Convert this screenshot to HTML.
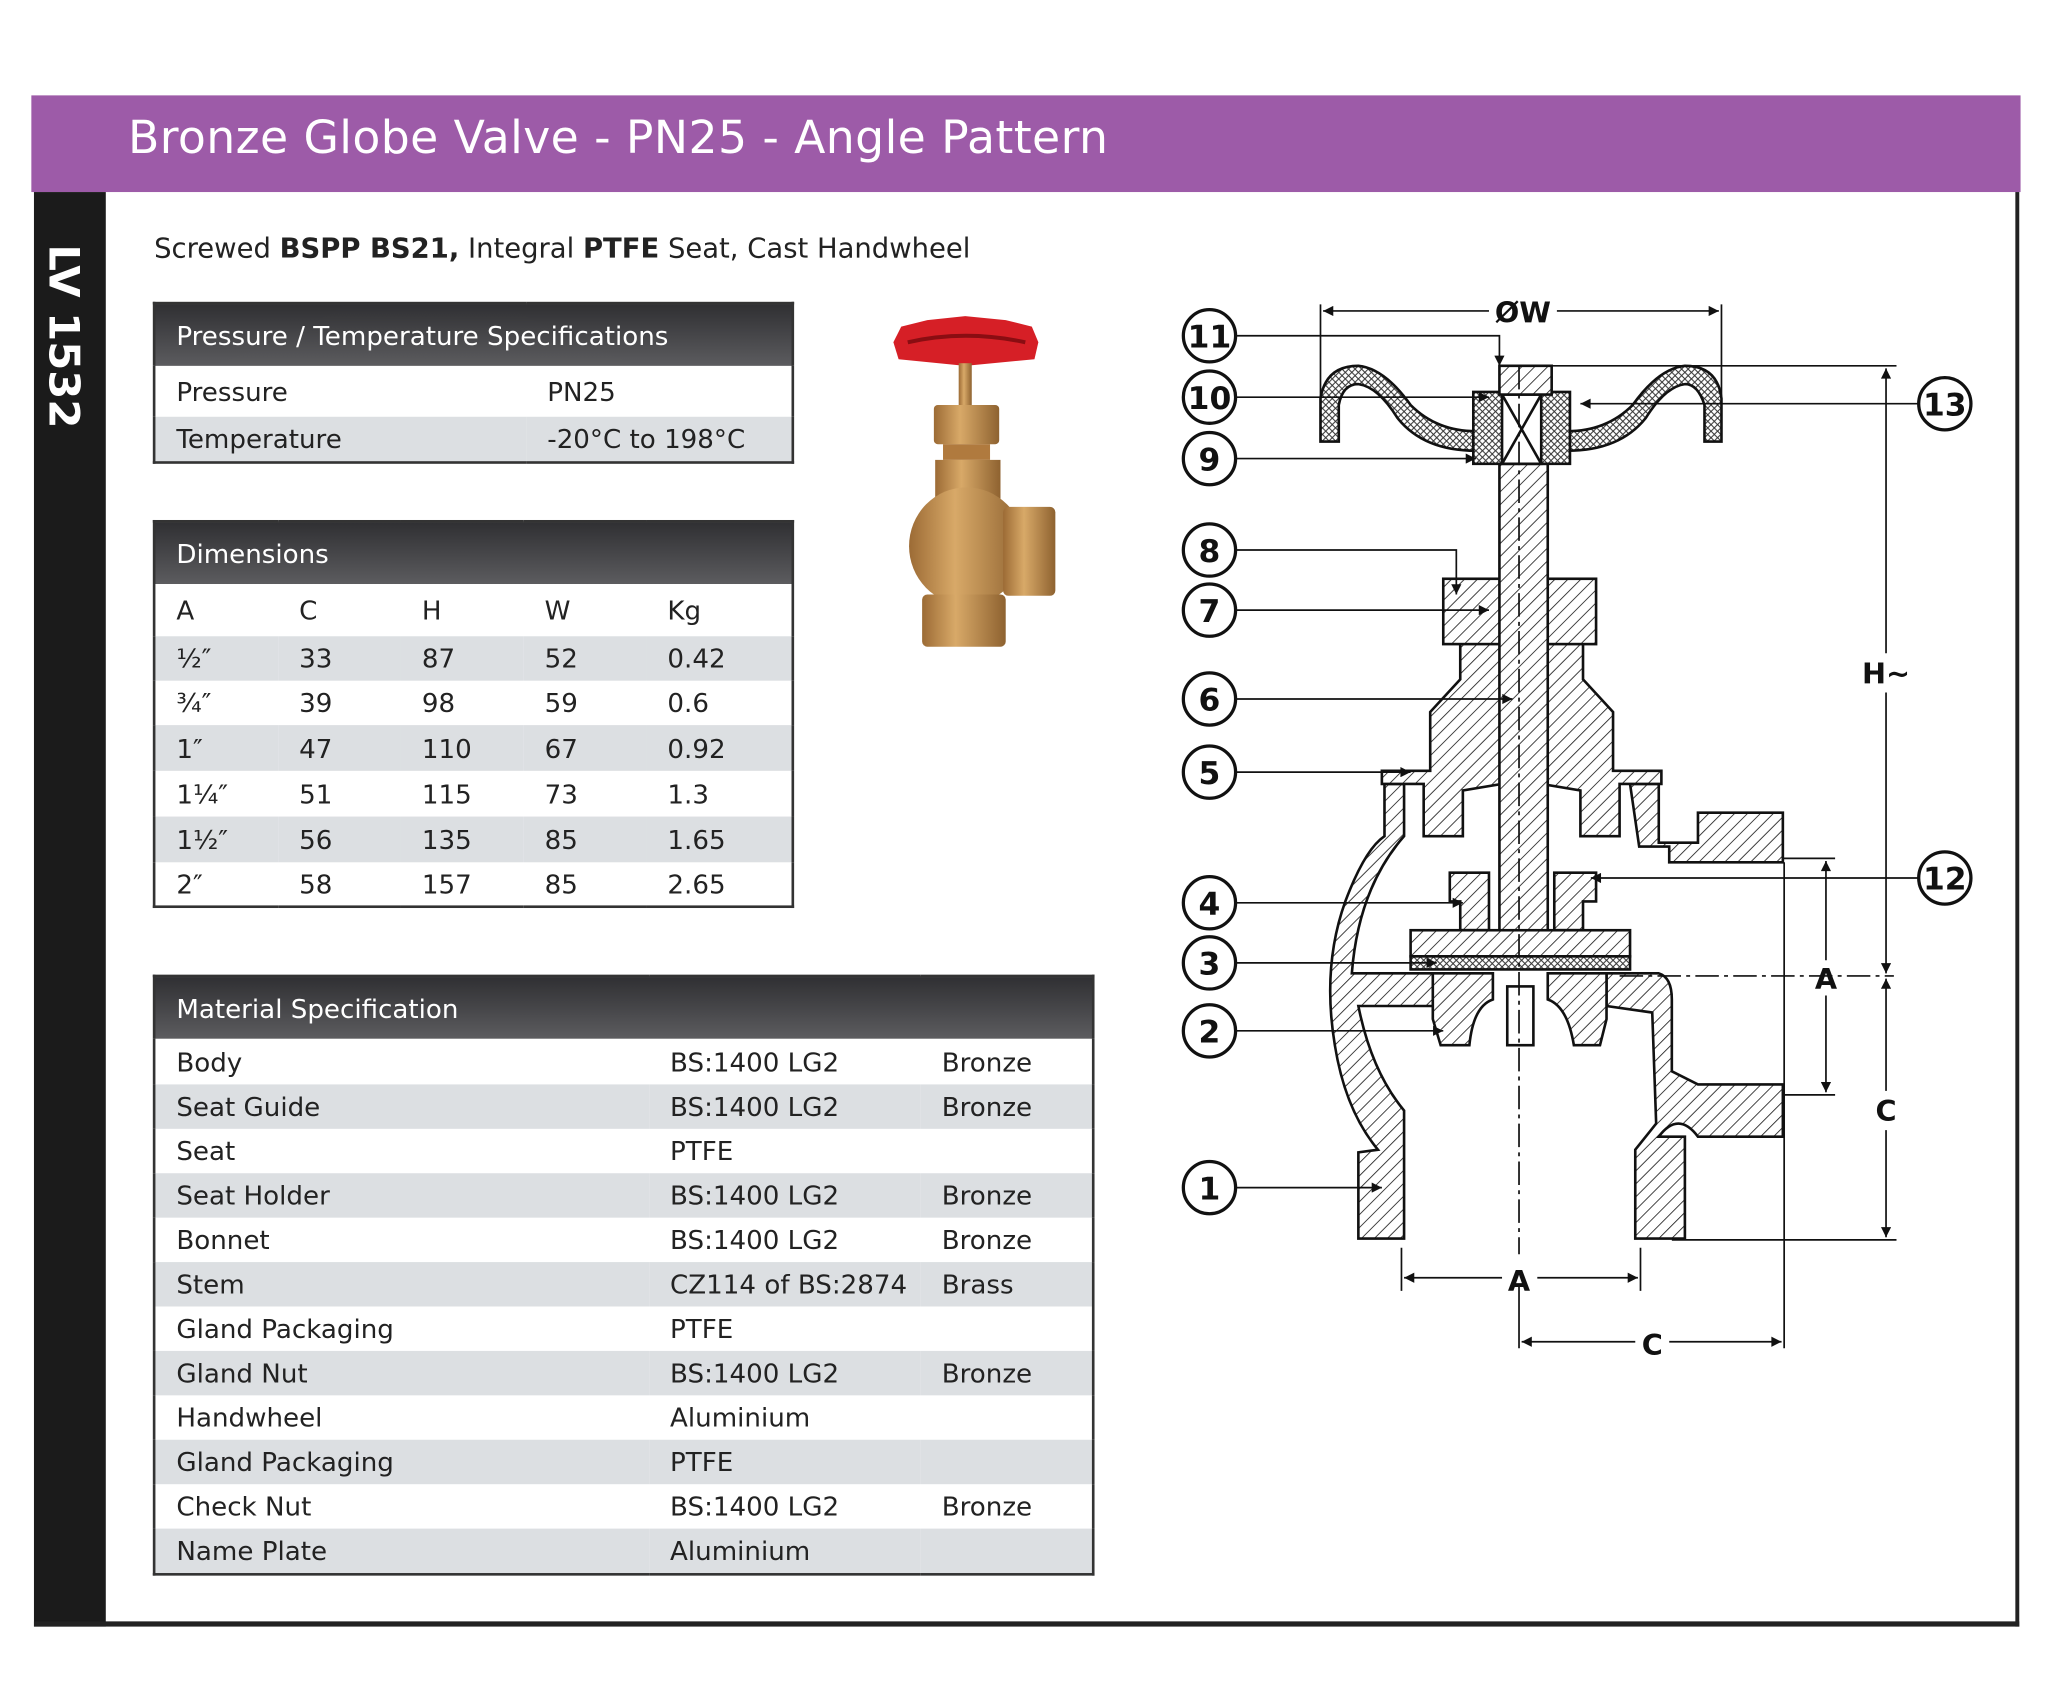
<!DOCTYPE html>
<html><head><meta charset="utf-8">
<style>
html,body{margin:0;padding:0;background:#fff;width:2048px;height:1705px;overflow:hidden}
#s{position:absolute;left:0;top:0;width:1568px;height:1305px;transform:scale(1.30612,1.3065);transform-origin:0 0;font-family:"DejaVu Sans","Liberation Sans",sans-serif;color:#222}
.abs{position:absolute}
.bar{left:24px;top:73px;width:1523px;height:74px;background:#9d5ba8}
.title{left:98px;top:86px;font-family:"DejaVu Sans",sans-serif;font-size:35px;color:#fff;white-space:nowrap;letter-spacing:0.3px}
.side{left:26px;top:147px;width:55px;height:1098px;background:#1b1b1b}
.sidetxt{left:26px;top:185px;width:55px;height:200px}
.frameR{left:1543px;top:147px;width:3px;height:1098px;background:#222}
.frameB{left:26px;top:1241px;width:1520px;height:4px;background:#222}
.sub{left:118px;top:178px;font-size:21px;white-space:nowrap}
table{position:absolute;border-collapse:collapse;border:2px solid #333;font-size:20px}
td{padding:0 0 0 16px;white-space:nowrap}
th{background:linear-gradient(#303033,#5c5c5f);color:#fff;font-weight:normal;text-align:left;padding:0 0 0 16px;height:47px}
tr.g td{background:#dcdfe2}
</style></head><body><div id="s">
<div class="abs bar"></div>
<div class="abs title">Bronze Globe Valve - PN25 - Angle Pattern</div>
<div class="abs side"></div>
<svg class="abs sidetxt" width="55" height="200"><text transform="translate(12,2) rotate(90)" x="0" y="0" font-family="DejaVu Sans,sans-serif" font-weight="bold" font-size="32" fill="#fff">LV 1532</text></svg>
<div class="abs frameR"></div>
<div class="abs frameB"></div>
<div class="abs sub">Screwed <b>BSPP BS21,</b> Integral <b>PTFE</b> Seat, Cast Handwheel</div>

<table style="left:117px;top:231px;width:491px">
<tr><th colspan="2">Pressure / Temperature Specifications</th></tr>
<tr style="height:39px"><td style="width:268px">Pressure</td><td>PN25</td></tr>
<tr class="g" style="height:35px"><td>Temperature</td><td>-20°C to 198°C</td></tr>
</table>

<table style="left:117px;top:398px;width:491px">
<tr><th colspan="5">Dimensions</th></tr>
<tr style="height:40px"><td style="width:78px">A</td><td style="width:78px">C</td><td style="width:78px">H</td><td style="width:78px">W</td><td>Kg</td></tr>
<tr class="g" style="height:34px"><td>½″</td><td>33</td><td>87</td><td>52</td><td>0.42</td></tr>
<tr style="height:34px"><td>¾″</td><td>39</td><td>98</td><td>59</td><td>0.6</td></tr>
<tr class="g" style="height:35px"><td>1″</td><td>47</td><td>110</td><td>67</td><td>0.92</td></tr>
<tr style="height:35px"><td>1¼″</td><td>51</td><td>115</td><td>73</td><td>1.3</td></tr>
<tr class="g" style="height:35px"><td>1½″</td><td>56</td><td>135</td><td>85</td><td>1.65</td></tr>
<tr style="height:34px"><td>2″</td><td>58</td><td>157</td><td>85</td><td>2.65</td></tr>
</table>

<table style="left:117px;top:746px;width:721px">
<tr><th colspan="3">Material Specification</th></tr>
<tr style="height:35px"><td style="width:362px">Body</td><td style="width:192px">BS:1400 LG2</td><td>Bronze</td></tr>
<tr class="g" style="height:34px"><td>Seat Guide</td><td>BS:1400 LG2</td><td>Bronze</td></tr>
<tr style="height:34px"><td>Seat</td><td>PTFE</td><td></td></tr>
<tr class="g" style="height:34px"><td>Seat Holder</td><td>BS:1400 LG2</td><td>Bronze</td></tr>
<tr style="height:34px"><td>Bonnet</td><td>BS:1400 LG2</td><td>Bronze</td></tr>
<tr class="g" style="height:34px"><td>Stem</td><td>CZ114 of BS:2874</td><td>Brass</td></tr>
<tr style="height:34px"><td>Gland Packaging</td><td>PTFE</td><td></td></tr>
<tr class="g" style="height:34px"><td>Gland Nut</td><td>BS:1400 LG2</td><td>Bronze</td></tr>
<tr style="height:34px"><td>Handwheel</td><td>Aluminium</td><td></td></tr>
<tr class="g" style="height:34px"><td>Gland Packaging</td><td>PTFE</td><td></td></tr>
<tr style="height:34px"><td>Check Nut</td><td>BS:1400 LG2</td><td>Bronze</td></tr>
<tr class="g" style="height:35px"><td>Name Plate</td><td>Aluminium</td><td></td></tr>
</table>

<svg class="abs" style="left:0;top:0" width="1568" height="1305">
<defs>
<linearGradient id="br" x1="0" x2="1"><stop offset="0" stop-color="#9c6b35"/><stop offset=".4" stop-color="#d8a968"/><stop offset="1" stop-color="#8e6230"/></linearGradient>
<pattern id="h" width="7" height="7" patternUnits="userSpaceOnUse" patternTransform="rotate(45)"><rect width="7" height="7" fill="#fff"/><line x1="0" y1="0" x2="0" y2="7" stroke="#222" stroke-width="1.3"/></pattern>
<pattern id="x" width="5" height="5" patternUnits="userSpaceOnUse"><rect width="5" height="5" fill="#fff"/><path d="M0 0L5 5M5 0L0 5" stroke="#333" stroke-width=".8"/></pattern>
<marker id="a" viewBox="0 0 10 10" refX="10" refY="5" markerWidth="9" markerHeight="6" orient="auto-start-reverse"><path d="M0 0L10 5L0 10z" fill="#111"/></marker>
</defs>
<path d="M684 262 L690 250 L710 245 L739 242 L770 245 L790 250 L795 262 L792 275 L739 280 L688 275z" fill="#d61f26"/>
<path d="M695 262 Q739 252 785 262" stroke="#8a0d12" stroke-width="3" fill="none"/>
<rect x="734" y="278" width="10" height="35" fill="url(#br)"/>
<rect x="715" y="310" width="50" height="30" rx="3" fill="url(#br)"/>
<rect x="722" y="340" width="36" height="12" fill="#b07a3e"/>
<rect x="716" y="352" width="50" height="30" fill="url(#br)"/>
<ellipse cx="740" cy="418" rx="44" ry="45" fill="url(#br)"/>
<rect x="768" y="388" width="40" height="68" rx="4" fill="url(#br)"/>
<rect x="706" y="455" width="64" height="40" rx="4" fill="url(#br)"/>

<g stroke="#111" stroke-width="2" fill="url(#h)">
<path d="M1060 600 L1075 600 L1075 640 Q1040 680 1035 745 L1100 745 L1100 770 L1040 770 Q1050 820 1075 850 L1075 948 L1040 948 L1040 882 L1055 880 Q1030 850 1022 800 Q1012 740 1030 690 Q1045 650 1060 640z"/>
<path d="M1248 600 L1270 600 L1270 645 L1300 645 L1300 622 L1365 622 L1365 660 L1278 660 L1278 648 L1255 648z"/>
<path d="M1230 745 L1270 745 Q1280 748 1280 765 L1280 820 L1300 830 L1365 830 L1365 870 L1300 870 Q1285 850 1270 870 L1290 870 L1290 948 L1252 948 L1252 880 L1268 860 L1265 775 L1230 770z"/>
<path d="M1118 492 L1212 492 L1212 520 L1235 545 L1235 590 L1272 590 L1272 600 L1240 600 L1240 640 L1210 640 L1210 605 L1180 600 L1180 545 L1150 545 L1150 600 L1120 605 L1120 640 L1090 640 L1090 600 L1058 600 L1058 590 L1095 590 L1095 545 L1118 520z"/>
<rect x="1105" y="443" width="117" height="50"/>
<rect x="1148" y="355" width="37" height="375"/>
<path d="M1110 668 L1140 668 L1140 712 L1118 712 L1118 690 L1110 690z"/>
<path d="M1190 668 L1222 668 L1222 690 L1212 690 L1212 712 L1190 712z"/>
<rect x="1080" y="712" width="168" height="20"/>
<rect x="1080" y="732" width="168" height="10" fill="url(#x)"/>
<path d="M1097 745 L1143 745 L1143 765 Q1128 770 1125 800 L1103 800 L1097 780z"/>
<path d="M1185 745 L1230 745 L1230 780 L1225 800 L1205 800 Q1200 770 1185 765z"/>
<rect x="1154" y="755" width="20" height="45" fill="#fff"/>
<path d="M1011 338 L1011 305 Q1015 280 1040 280 Q1060 282 1080 310 Q1100 330 1130 330 L1200 330 Q1230 330 1250 310 Q1270 282 1290 280 Q1315 280 1318 305 L1318 338 L1305 338 L1305 310 Q1300 294 1290 294 Q1275 296 1260 320 Q1240 345 1200 345 L1130 345 Q1090 345 1070 320 Q1055 296 1040 294 Q1028 294 1025 310 L1025 338z" fill="url(#x)"/>
<rect x="1128" y="300" width="74" height="55" fill="url(#x)"/>
<rect x="1150" y="302" width="30" height="53" fill="#fff"/>
<path d="M1150 302L1180 355M1180 302L1150 355" fill="none"/>
<rect x="1148" y="280" width="40" height="22"/>
</g>
<g stroke="#111" stroke-width="1.3" fill="none">
<path d="M1163 280 V960" stroke-dasharray="18 4 3 4"/>
<path d="M1240 747 H1450" stroke-dasharray="18 4 3 4"/>
<path d="M1011 233 V338 M1318 233 V338"/>
<path d="M1013 238 H1140 M1192 238 H1316" marker-start="url(#a)" marker-end="url(#a)"/>
<path d="M1150 280 H1452 M1280 949 H1452 M1365 657 H1405 M1365 838 H1405"/>
<path d="M1444 282 V500 M1444 530 V745" marker-start="url(#a)" marker-end="url(#a)"/>
<path d="M1444 749 V835 M1444 865 V947" marker-start="url(#a)" marker-end="url(#a)"/>
<path d="M1398 659 V735 M1398 762 V836" marker-start="url(#a)" marker-end="url(#a)"/>
<path d="M1073 955 V988 M1256 955 V988 M1163 985 V1032 M1366 660 V1032"/>
<path d="M1075 978 H1150 M1177 978 H1254" marker-start="url(#a)" marker-end="url(#a)"/>
<path d="M1165 1027 H1252 M1278 1027 H1364" marker-start="url(#a)" marker-end="url(#a)"/>
<path d="M946 257 H1148 V280" marker-end="url(#a)"/>
<path d="M946 304 H1140" marker-end="url(#a)"/>
<path d="M946 351 H1130" marker-end="url(#a)"/>
<path d="M946 421 H1115 V455" marker-end="url(#a)"/>
<path d="M946 467 H1140" marker-end="url(#a)"/>
<path d="M946 535 H1158" marker-end="url(#a)"/>
<path d="M946 591 H1080" marker-end="url(#a)"/>
<path d="M946 691 H1120" marker-end="url(#a)"/>
<path d="M946 737 H1100" marker-end="url(#a)"/>
<path d="M946 789 H1105" marker-end="url(#a)"/>
<path d="M946 909 H1058" marker-end="url(#a)"/>
<path d="M1469 309 H1210" marker-end="url(#a)"/>
<path d="M1469 672 H1218" marker-end="url(#a)"/>
</g>
<g fill="#fff" stroke="#111" stroke-width="2.5">
<circle cx="926" cy="257" r="20"/><circle cx="926" cy="304" r="20"/><circle cx="926" cy="351" r="20"/>
<circle cx="926" cy="421" r="20"/><circle cx="926" cy="467" r="20"/><circle cx="926" cy="535" r="20"/>
<circle cx="926" cy="591" r="20"/><circle cx="926" cy="691" r="20"/><circle cx="926" cy="737" r="20"/>
<circle cx="926" cy="789" r="20"/><circle cx="926" cy="909" r="20"/>
<circle cx="1489" cy="309" r="20"/><circle cx="1489" cy="672" r="20"/>
</g>
<g font-family="DejaVu Sans,sans-serif" font-weight="bold" font-size="24" fill="#111" text-anchor="middle">
<text x="926" y="266">11</text><text x="926" y="313">10</text><text x="926" y="360">9</text>
<text x="926" y="430">8</text><text x="926" y="476">7</text><text x="926" y="544">6</text>
<text x="926" y="600">5</text><text x="926" y="700">4</text><text x="926" y="746">3</text>
<text x="926" y="798">2</text><text x="926" y="918">1</text>
<text x="1489" y="318">13</text><text x="1489" y="681">12</text>
<text x="1166" y="247" font-size="22">ØW</text>
<text x="1444" y="523" font-size="22">H~</text>
<text x="1444" y="858" font-size="22">C</text>
<text x="1398" y="757" font-size="22">A</text>
<text x="1163" y="988" font-size="22">A</text>
<text x="1265" y="1037" font-size="22">C</text>
</g>
</svg>
</div></body></html>
